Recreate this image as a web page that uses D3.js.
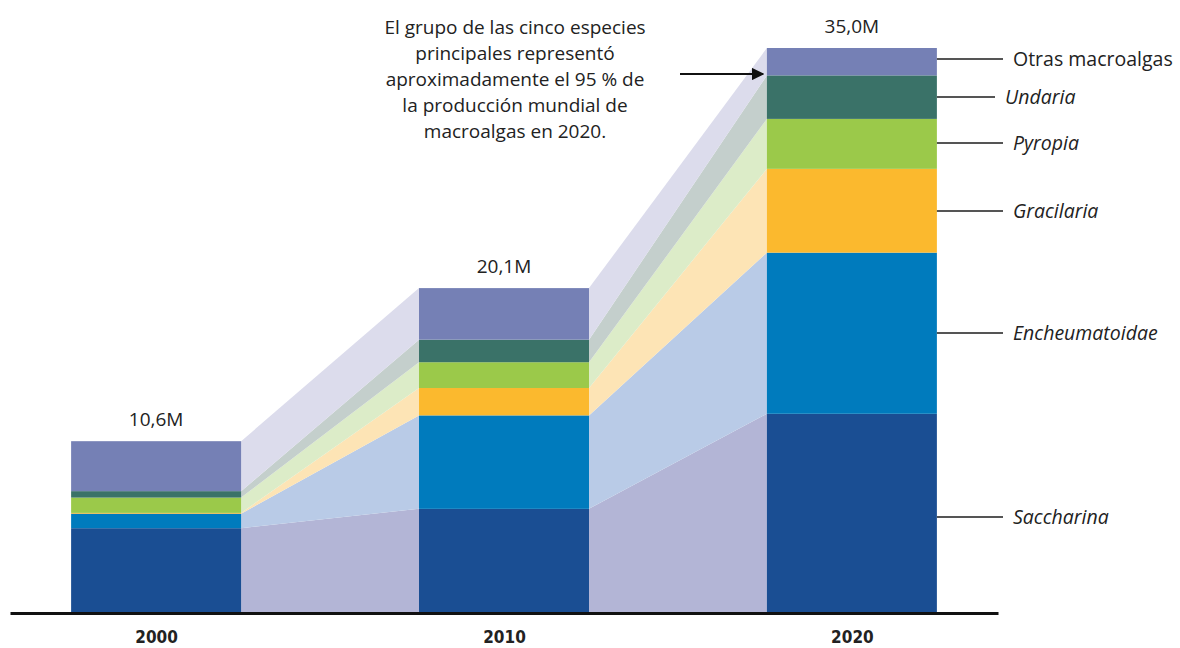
<!DOCTYPE html>
<html lang="es">
<head>
  <meta charset="UTF-8">
  <title>Producción mundial de macroalgas</title>
  <script src="https://d3js.org/d3.v7.min.js"></script>
  <style>
    body { margin: 0; background: #fff; font-family: "Open Sans", sans-serif; }
    .total { font-size: 19px; fill: #222; }
    .note { font-size: 19px; fill: #222; }
    .sp-label { font-size: 19.5px; fill: #222; }
    .axis text { font-family: "DejaVu Sans Condensed", "Liberation Sans Narrow", sans-serif; font-weight: bold; font-size: 17px; fill: #222; }
  </style>
</head>
<body>
  <svg width="1180" height="648"></svg>

  <script>
    const years = [2000, 2010, 2020];
    const species = ["Saccharina", "Encheumatoidae", "Gracilaria", "Pyropia", "Undaria", "Otras macroalgas"];
    const saccharina = [5.2, 6.4, 12.3];
    const encheumatoidae = [0.9, 5.8, 10.0];
    const gracilaria = [0.05, 1.7, 5.2];
    const pyropia = [0.95, 1.6, 3.1];
    const undaria = [0.4, 1.4, 2.7];
    const otras = [3.1, 3.2, 1.7];
    const totalLabels = ["10,6M", "20,1M", "35,0M"];
    const note = ["El grupo de las cinco especies", "principales representó",
                  "aproximadamente el 95 % de", "la producción mundial de",
                  "macroalgas en 2020."];

    const colors = ["#1a4e93", "#007bbd", "#fbb92e", "#9bc94a", "#3a7268", "#7580b5"];
    const lightColors = ["#b3b5d6", "#b9cbe7", "#fde4b5", "#dcecc8", "#c4cfcc", "#dcdcec"];

    const svg = d3.select("svg");
    const baseY = 612, barW = 170;

    const table = years.map((y, i) => ({
      year: y,
      "Saccharina": saccharina[i], "Encheumatoidae": encheumatoidae[i],
      "Gracilaria": gracilaria[i], "Pyropia": pyropia[i],
      "Undaria": undaria[i], "Otras macroalgas": otras[i]
    }));
    const series = d3.stack().keys(species)(table);

    const x = d3.scalePoint().domain(years).range([10, 998]).padding(0.42);
    const y = d3.scaleLinear().domain([0, 35]).range([baseY, 48]);

    // connecting bands between bars
    series.forEach((s, k) => {
      for (let i = 0; i < years.length - 1; i++) {
        const pts = [
          {x: x(years[i]) + barW / 2, d: s[i]},
          {x: x(years[i + 1]) - barW / 2, d: s[i + 1]}
        ];
        svg.append("path")
          .datum(pts)
          .attr("fill", lightColors[k])
          .attr("d", d3.area().x(p => p.x).y0(p => y(p.d[0])).y1(p => y(p.d[1])));
      }
    });

    // bars
    series.forEach((s, k) => {
      svg.append("g").selectAll("rect")
        .data(s)
        .join("rect")
        .attr("x", d => x(d.data.year) - barW / 2)
        .attr("width", barW)
        .attr("y", d => y(d[1]))
        .attr("height", d => y(d[0]) - y(d[1]))
        .attr("fill", colors[k]);
    });

    // totals
    svg.selectAll(".total")
      .data(table)
      .join("text")
      .attr("class", "total")
      .attr("x", d => x(d.year))
      .attr("y", d => y(d3.sum(species, s => d[s])) - 15)
      .attr("text-anchor", "middle")
      .text((d, i) => totalLabels[i]);

    // axis
    const axis = svg.append("g")
      .attr("class", "axis")
      .attr("transform", `translate(0,${baseY + 1})`)
      .call(d3.axisBottom(x).tickSize(0).tickPadding(18).tickFormat(d3.format("d")));
    axis.select(".domain").attr("stroke", "#111").attr("stroke-width", 3);

    // species labels on the right of the 2020 bar
    const last = years.length - 1;
    const labelY = [517, 333, 211, 143, 97, 59];
    const lineEnd = [1003, 1003, 1003, 1003, 995, 1003];
    const textX = [1013, 1013, 1013, 1013, 1005, 1013];
    species.forEach((sp, k) => {
      svg.append("line")
        .attr("x1", x(years[last]) + barW / 2).attr("x2", lineEnd[k])
        .attr("y1", labelY[k]).attr("y2", labelY[k])
        .attr("stroke", "#555").attr("stroke-width", 2);
      svg.append("text")
        .attr("class", "sp-label")
        .attr("x", textX[k]).attr("y", labelY[k] + 7)
        .style("font-style", sp === "Otras macroalgas" ? "normal" : "italic")
        .text(sp);
    });

    // annotation
    svg.append("g").selectAll("text")
      .data(note)
      .join("text")
      .attr("class", "note")
      .attr("x", 515)
      .attr("y", (d, i) => 34 + i * 26)
      .attr("text-anchor", "middle")
      .text(d => d);

    svg.append("defs").append("marker")
      .attr("id", "arrow").attr("viewBox", "0 0 10 10")
      .attr("refX", 9).attr("refY", 5)
      .attr("markerWidth", 7).attr("markerHeight", 7)
      .attr("orient", "auto")
      .append("path").attr("d", "M0,0L10,5L0,10z").attr("fill", "#111");

    svg.append("line")
      .attr("x1", 680).attr("x2", 763)
      .attr("y1", 74).attr("y2", 74)
      .attr("stroke", "#111").attr("stroke-width", 1.8)
      .attr("marker-end", "url(#arrow)");
  </script>
</body>
</html>
